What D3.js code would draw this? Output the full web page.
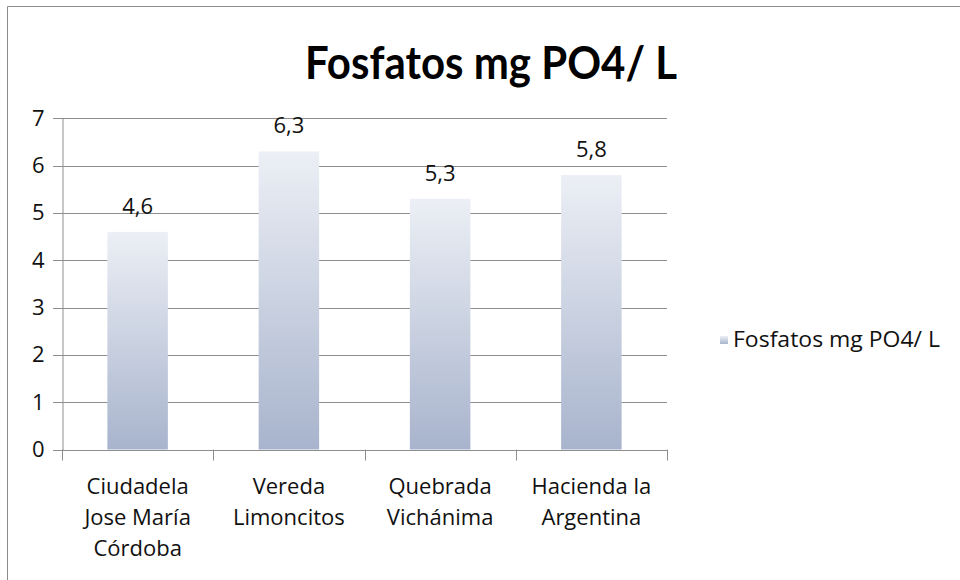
<!DOCTYPE html>
<html>
<head>
<meta charset="utf-8">
<script src="https://cdn.jsdelivr.net/npm/d3@7"></script>
<style>
  html, body { margin: 0; padding: 0; background: #fff; }
  svg { display: block; font-family: "Open Sans", Lato, sans-serif; }
</style>
</head>
<body>
<svg id="chart" width="960" height="580"></svg>
<script>
// Phosphate concentration per sampling site
const categories = [
  ["Ciudadela", "Jose María", "Córdoba"],
  ["Vereda", "Limoncitos"],
  ["Quebrada", "Vichánima"],
  ["Hacienda la", "Argentina"]
];
const values = [4.6, 6.3, 5.3, 5.8];
const yTicks = [0, 1, 2, 3, 4, 5, 6, 7];
const seriesName = "Fosfatos mg PO4/ L";
const title = "Fosfatos mg PO4/ L";

const svg = d3.select("#chart");
const plot = { left: 62, right: 667, top: 118.3, bottom: 449.5 };
const labelSize = 22;

// outer frame
svg.append("path")
  .attr("d", "M7.5,600 V6.5 H980")
  .attr("fill", "none").attr("stroke", "#8c8c8c").attr("stroke-width", 1);

// bar fill: pale at the top, blue-grey at the base
const defs = svg.append("defs");
const grad = defs.append("linearGradient").attr("id", "barFill")
  .attr("x1", 0).attr("y1", 0).attr("x2", 0).attr("y2", 1);
grad.append("stop").attr("offset", "0%").attr("stop-color", "#eceff5");
grad.append("stop").attr("offset", "100%").attr("stop-color", "#a8b4cd");

const x = d3.scaleBand()
  .domain(d3.range(categories.length))
  .range([plot.left, plot.right])
  .paddingInner(0.6).paddingOuter(0.3);

const xEdges = d3.scaleLinear().domain([0, categories.length]).range([plot.left, plot.right]);

const y = d3.scaleLinear().domain([0, 7]).range([plot.bottom, plot.top]);

// horizontal gridlines
svg.append("g").selectAll("line").data(yTicks).join("line")
  .attr("x1", plot.left - 9).attr("x2", plot.right)
  .attr("y1", d => Math.round(y(d)) + 0.5).attr("y2", d => Math.round(y(d)) + 0.5)
  .attr("stroke", "#8e8e8e").attr("stroke-width", 1);

// y axis
const yAxis = svg.append("g")
  .attr("transform", `translate(${plot.left + 0.5},0)`)
  .call(d3.axisLeft(y).tickValues(yTicks).tickSize(0).tickPadding(18).tickFormat(d3.format("d")));
yAxis.select(".domain").attr("stroke", "#8e8e8e");
yAxis.selectAll("text").attr("font-size", labelSize).attr("fill", "#111")
  .attr("font-family", "'Open Sans', sans-serif");

// category tick marks on the baseline
svg.append("g").selectAll("line").data(d3.range(categories.length + 1)).join("line")
  .attr("x1", d => Math.round(xEdges(d)) + 0.5).attr("x2", d => Math.round(xEdges(d)) + 0.5)
  .attr("y1", plot.bottom).attr("y2", plot.bottom + 11)
  .attr("stroke", "#8e8e8e");

// bars
svg.append("g").selectAll("rect").data(values).join("rect")
  .attr("x", (d, i) => x(i))
  .attr("width", x.bandwidth())
  .attr("y", d => y(d))
  .attr("height", d => y(0) - y(d))
  .attr("fill", "url(#barFill)");

// redraw baseline over the bars
svg.append("line")
  .attr("x1", plot.left - 9).attr("x2", plot.right)
  .attr("y1", Math.round(y(0)) + 0.5).attr("y2", Math.round(y(0)) + 0.5)
  .attr("stroke", "#8e8e8e");

// value labels
svg.append("g").selectAll("text").data(values).join("text")
  .attr("x", (d, i) => x(i) + x.bandwidth() / 2)
  .attr("y", d => y(d) - 18)
  .attr("text-anchor", "middle")
  .attr("font-size", labelSize).attr("fill", "#111")
  .text(d => d3.format(".1f")(d).replace(".", ","));

// category labels
const catG = svg.append("g").selectAll("text").data(categories).join("text")
  .attr("x", (d, i) => x(i) + x.bandwidth() / 2)
  .attr("y", 494)
  .attr("text-anchor", "middle")
  .attr("font-size", labelSize).attr("fill", "#111");
catG.selectAll("tspan").data(d => d).join("tspan")
  .attr("x", function () { return d3.select(this.parentNode).attr("x"); })
  .attr("dy", (d, i) => i === 0 ? 0 : 31)
  .text(d => d);

// title
svg.append("text")
  .attr("x", 491).attr("y", 79)
  .attr("text-anchor", "middle")
  .attr("font-size", 46).attr("font-weight", "bold").attr("fill", "#000")
  .attr("font-family", "Lato, sans-serif")
  .attr("textLength", 372).attr("lengthAdjust", "spacingAndGlyphs")
  .text(title);

// legend
const leg = svg.append("g").attr("transform", "translate(720,336)");
leg.append("rect").attr("width", 8).attr("height", 8).attr("fill", "url(#barFill)");
leg.append("text").attr("x", 13).attr("y", 11)
  .attr("font-size", labelSize).attr("fill", "#111")
  .attr("textLength", 207).attr("lengthAdjust", "spacingAndGlyphs")
  .text(seriesName);
</script>
</body>
</html>
